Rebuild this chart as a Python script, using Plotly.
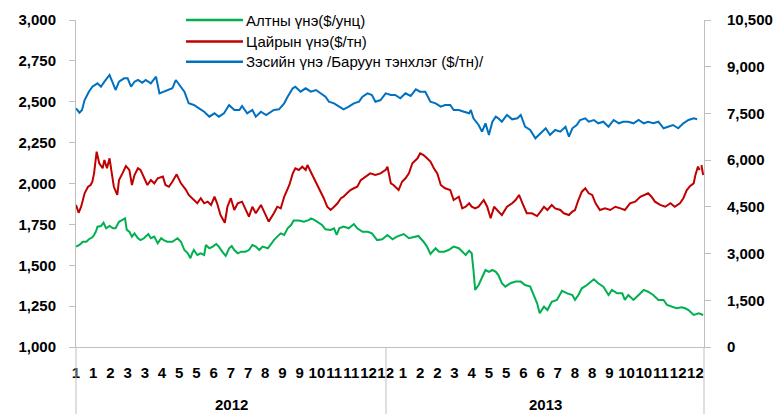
import pandas as pd
import plotly.graph_objects as go

START = pd.Timestamp("2012-01-02")

series_names = ["Алтны үнэ($/унц)", "Цайрын үнэ($/тн)", "Зэсийн үнэ /Баруун тэнхлэг ($/тн)/"]

month_labels = ["1", "1", "2", "3", "3", "4", "5", "5", "6", "7", "7", "8", "9", "9", "10", "11", "11", "12", "12",
                "1", "2", "2", "3", "4", "5", "5", "6", "6", "7", "8", "8", "9", "10", "10", "11", "12", "12"]
year_labels = ["2012", "2013"]
year_centers = ["2012-07-01", "2013-07-01"]

# days since 2012-01-02
green_days = [0, 4, 8, 12, 15, 19, 21, 23, 25, 29, 32, 35, 39, 43, 46, 50, 54, 57, 59, 62,
              65, 68, 72, 75, 79, 84, 87, 91, 95, 99, 102, 106, 112, 118, 122, 126, 130, 133, 135, 137,
              141, 145, 149, 151, 155, 159, 163, 166, 170, 174, 178, 181, 184, 188, 192, 197, 201, 205, 209, 213,
              217, 223, 226, 230, 234, 238, 242, 246, 250, 253, 259, 265, 271, 273, 277, 282, 286, 290, 296, 300,
              303, 306, 311, 317, 323, 327, 333, 339, 344, 350, 356, 362, 368, 373, 381, 387, 393, 398, 404, 408,
              412, 418, 422, 428, 433, 439, 445, 449, 453, 457, 460, 462, 464, 468, 472, 476, 480, 484, 488, 491,
              495, 499, 505, 511, 517, 522, 528, 532, 536, 539, 544, 548, 553, 559, 565, 571, 577, 580, 584, 588,
              594, 602, 607, 613, 619, 623, 629, 635, 638, 642, 648, 654, 660, 665, 671, 677, 683, 687, 693, 698,
              704, 708, 712, 718, 724, 729]
green_vals = [1614, 1624, 1644, 1644, 1659, 1671, 1685, 1705, 1736, 1740, 1760, 1726, 1740, 1726, 1726, 1766, 1777, 1787, 1716, 1705,
              1675, 1695, 1665, 1654, 1665, 1691, 1665, 1675, 1634, 1665, 1654, 1644, 1644, 1665, 1644, 1593, 1573, 1543, 1573, 1593,
              1563, 1573, 1563, 1624, 1604, 1614, 1630, 1614, 1583, 1557, 1604, 1618, 1593, 1573, 1583, 1583, 1593, 1624, 1614, 1593,
              1614, 1604, 1624, 1654, 1675, 1695, 1685, 1726, 1746, 1773, 1773, 1766, 1777, 1787, 1777, 1757, 1746, 1720, 1716, 1726,
              1685, 1726, 1736, 1726, 1752, 1726, 1705, 1705, 1695, 1654, 1659, 1685, 1659, 1675, 1691, 1665, 1675, 1679, 1644, 1614,
              1569, 1604, 1583, 1583, 1593, 1614, 1604, 1583, 1563, 1589, 1573, 1471, 1349, 1379, 1420, 1471, 1460, 1471, 1460, 1440,
              1390, 1369, 1390, 1400, 1400, 1379, 1369, 1318, 1267, 1206, 1247, 1226, 1277, 1288, 1344, 1328, 1318, 1288, 1318, 1359,
              1379, 1414, 1390, 1369, 1318, 1349, 1328, 1328, 1288, 1318, 1288, 1318, 1349, 1338, 1318, 1288, 1288, 1257, 1247, 1237,
              1243, 1237, 1226, 1196, 1206, 1196]

red_days = [0, 3, 6, 10, 14, 17, 19, 21, 24, 27, 31, 33, 36, 39, 41, 44, 48, 50, 54, 58,
            62, 65, 68, 72, 75, 79, 83, 87, 91, 95, 101, 104, 108, 112, 117, 122, 128, 131, 135, 141,
            145, 149, 153, 157, 161, 164, 168, 173, 176, 180, 184, 188, 193, 197, 201, 205, 209, 215, 219, 224,
            230, 234, 238, 242, 248, 252, 255, 259, 263, 267, 269, 273, 277, 282, 288, 292, 296, 300, 304, 308,
            311, 315, 319, 323, 327, 331, 337, 342, 348, 354, 360, 362, 366, 369, 375, 379, 383, 387, 391, 397,
            400, 404, 408, 412, 416, 420, 424, 429, 435, 439, 445, 449, 453, 457, 460, 464, 468, 474, 478, 482,
            486, 491, 495, 501, 507, 511, 515, 519, 524, 530, 536, 540, 544, 548, 553, 557, 563, 567, 573, 577,
            580, 584, 588, 592, 596, 600, 604, 609, 615, 621, 627, 633, 638, 644, 650, 656, 662, 665, 669, 673,
            679, 685, 691, 696, 702, 706, 710, 714, 718, 720, 723, 725, 726, 727, 729]
red_vals = [1869, 1821, 1858, 1940, 1980, 1991, 2011, 2062, 2195, 2124, 2093, 2144, 2093, 2154, 2083, 1980, 1930, 2021, 2062, 2107,
            2083, 1991, 2052, 2093, 2083, 2042, 1991, 2021, 2001, 2032, 2042, 1991, 1980, 2011, 2056, 2001, 1960, 1930, 1910, 1879,
            1910, 1879, 1889, 1869, 1919, 1879, 1807, 1760, 1858, 1910, 1838, 1879, 1889, 1838, 1797, 1858, 1818, 1869, 1828, 1767,
            1818, 1858, 1848, 1919, 1991, 2062, 2093, 2083, 2103, 2083, 2113, 2072, 2021, 1971, 1910, 1858, 1838, 1858, 1879, 1910,
            1919, 1940, 1960, 1971, 1980, 2021, 2042, 2062, 2052, 2062, 2083, 2103, 2001, 1991, 1960, 2011, 2032, 2062, 2124, 2154,
            2185, 2174, 2154, 2134, 2093, 2062, 1991, 1971, 1960, 1899, 1919, 1848, 1858, 1879, 1858, 1848, 1858, 1899, 1858, 1787,
            1858, 1828, 1807, 1858, 1879, 1899, 1930, 1879, 1818, 1818, 1801, 1828, 1858, 1838, 1869, 1848, 1838, 1818, 1807, 1828,
            1838, 1899, 1950, 1971, 1940, 1930, 1879, 1838, 1848, 1838, 1858, 1848, 1838, 1879, 1889, 1919, 1930, 1940, 1919, 1889,
            1869, 1858, 1879, 1858, 1879, 1910, 1960, 1985, 2001, 2052, 2103, 2083, None, 2113, 2052]

blue_days = [0, 4, 7, 10, 15, 19, 25, 29, 33, 39, 43, 46, 50, 56, 60, 64, 68, 72, 77, 81,
             87, 93, 97, 102, 108, 112, 116, 120, 126, 131, 137, 143, 149, 155, 161, 166, 172, 178, 184, 190,
             193, 199, 205, 209, 215, 221, 224, 230, 236, 242, 246, 252, 255, 261, 267, 273, 279, 284, 290, 294,
             300, 306, 311, 317, 323, 329, 333, 339, 344, 348, 354, 360, 366, 371, 377, 383, 389, 395, 400, 406,
             412, 418, 424, 429, 435, 439, 445, 451, 457, 459, 462, 468, 472, 476, 480, 484, 488, 491, 495, 501,
             507, 513, 517, 522, 528, 534, 540, 546, 551, 557, 563, 569, 573, 577, 582, 586, 592, 596, 602, 607,
             613, 619, 625, 631, 636, 642, 648, 654, 660, 665, 671, 677, 683, 689, 694, 700, 706, 712, 718, 722,
             723, 725]
blue_vals = [7665, 7523, 7610, 7931, 8198, 8358, 8467, 8358, 8519, 8734, 8467, 8252, 8519, 8628, 8628, 8358, 8519, 8573, 8487, 8573,
             8467, 8679, 8146, 8198, 8252, 8307, 8573, 8413, 8198, 7825, 7771, 7665, 7556, 7395, 7504, 7395, 7504, 7771, 7610, 7610,
             7739, 7504, 7610, 7395, 7556, 7450, 7504, 7610, 7633, 7825, 8037, 8307, 8358, 8198, 8307, 8198, 8252, 8146, 8037, 7877,
             7825, 7716, 7633, 7716, 7825, 7877, 8037, 8146, 8092, 7877, 7930, 8146, 8092, 8092, 7986, 8146, 8060, 8275, 8198, 8198,
             7877, 7825, 7716, 7771, 7771, 7610, 7610, 7556, 7504, 7610, 7344, 7129, 6913, 7183, 6807, 7234, 7395, 7344, 7234, 7450,
             7311, 7344, 7450, 7074, 6968, 6701, 6862, 7023, 6807, 6968, 6913, 7074, 6753, 7023, 7129, 7289, 7344, 7234, 7289, 7183,
             7234, 7074, 7289, 7183, 7234, 7234, 7183, 7289, 7183, 7234, 7183, 7234, 7023, 7074, 7129, 7023, 7183, 7289, 7344, 7311,
             None, 7395]

assert len(green_days) == len(green_vals)
assert len(red_days) == len(red_vals)
assert len(blue_days) == len(blue_vals)

colors = ["#00B050", "#C00000", "#0070C0"]


def to_dates(days):
    return [START + pd.Timedelta(days=d) for d in days]


FONT = "Liberation Sans, Arial, sans-serif"
AXIS_GREY = "#BFBFBF"
TICK_FONT = dict(family=FONT, size=15, weight="bold", color="black")

fig = go.Figure()
fig.add_trace(go.Scatter(x=to_dates(green_days), y=green_vals, mode="lines", name=series_names[0],
                         line=dict(color=colors[0], width=2), yaxis="y", showlegend=False))
fig.add_trace(go.Scatter(x=to_dates(red_days), y=red_vals, mode="lines", name=series_names[1],
                         line=dict(color=colors[1], width=2), yaxis="y", showlegend=False, connectgaps=False))
fig.add_trace(go.Scatter(x=to_dates(blue_days), y=blue_vals, mode="lines", name=series_names[2],
                         line=dict(color=colors[2], width=2), yaxis="y2", showlegend=False, connectgaps=False))

tick_dates = to_dates([20 * k for k in range(len(month_labels))])

# the page body adds an 8px offset, so margins are shifted accordingly
fig.update_layout(
    width=782, height=414,
    margin=dict(l=68, r=86, t=12, b=75, autoexpand=False),
    paper_bgcolor="white", plot_bgcolor="white",
    font=dict(family=FONT, color="black"),
    xaxis=dict(type="date", range=[START, START + pd.Timedelta(days=730)],
               tickmode="array", tickvals=tick_dates, ticktext=month_labels, tickangle=0,
               ticks="", showline=True, linecolor=AXIS_GREY, linewidth=1, automargin=False,
               showgrid=False, zeroline=False, ticklabelstandoff=12, tickfont=TICK_FONT),
    yaxis=dict(range=[1000, 3000], dtick=250, tick0=1000, tickformat=",",
               ticks="outside", ticklen=6, tickcolor=AXIS_GREY, tickwidth=1, automargin=False,
               showline=True, linecolor=AXIS_GREY, linewidth=1, showgrid=False, zeroline=False,
               ticklabelstandoff=10, tickfont=TICK_FONT),
    yaxis2=dict(range=[0, 10500], dtick=1500, tick0=0, tickformat=",", overlaying="y", side="right",
                ticks="outside", ticklen=6, tickcolor=AXIS_GREY, tickwidth=1, automargin=False,
                showline=True, linecolor=AXIS_GREY, linewidth=1, showgrid=False, zeroline=False,
                ticklabelstandoff=13, tickfont=TICK_FONT),
)

# category separators below the axis (left edge, year boundary, right edge)
for xp in [0, 0.4936, 1]:
    fig.add_shape(type="line", xref="paper", yref="paper", x0=xp, x1=xp, y0=0, y1=-0.215,
                  line=dict(color=AXIS_GREY, width=1))

for lbl, xc in zip(year_labels, year_centers):
    fig.add_annotation(x=xc, xref="x", y=-0.175, yref="paper", text=lbl, showarrow=False,
                       xanchor="center", yanchor="middle", font=TICK_FONT)

# legend drawn as line samples + labels
leg_y = [1.0, 0.934, 0.872]
for name, col, yy in zip(series_names, colors, leg_y):
    fig.add_shape(type="line", xref="paper", yref="paper", x0=0.1752, x1=0.2659, y0=yy, y1=yy,
                  line=dict(color=col, width=2.5))
    fig.add_annotation(x=0.2675, xref="paper", y=yy, yref="paper", text=name, showarrow=False,
                       xanchor="left", yanchor="middle",
                       font=dict(family=FONT, size=15, color="black"))

fig.write_html("out.html")
